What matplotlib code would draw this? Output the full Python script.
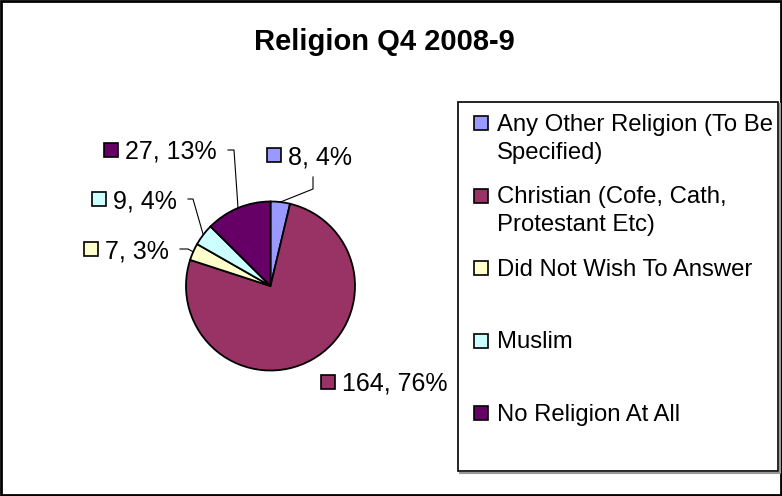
import textwrap

import numpy as np
import matplotlib
matplotlib.use("Agg")
import matplotlib.pyplot as plt
from matplotlib.patches import Rectangle

# data
categories = ["Any Other Religion (To Be Specified)",
              "Christian (Cofe, Cath, Protestant Etc)",
              "Did Not Wish To Answer",
              "Muslim",
              "No Religion At All"]
counts = [8, 164, 7, 9, 27]
colors = ["#9999FF", "#993366", "#FFFFCC", "#CCFFFF", "#660066"]
title = "Religion Q4 2008-9"

W, H = 782, 496
CX, CY, R = 270.5, 286.0, 84.5          # pie centre / radius in pixels

# data-label layout (pixels): marker left, centre y, elbow points of leader
label_pos = [(267, 155), (321, 382), (84, 249), (92, 199), (104, 150)]
leaders = [[(313, 177), (313, 189)], None, [(180, 249), (188, 249)],
           [(188, 199), (193, 199)], [(228, 150), (234, 150)]]

plt.rcParams["font.family"] = ["Liberation Sans", "DejaVu Sans"]
fig = plt.figure(figsize=(W / 100, H / 100), dpi=100)

# overlay in pixel coords
ov = fig.add_axes([0, 0, 1, 1])
ov.set_xlim(0, W); ov.set_ylim(H, 0); ov.axis("off")

# pie
ax = fig.add_axes([(CX - R) / W, 1 - (CY + R) / H, 2 * R / W, 2 * R / H])
ax.pie(counts, colors=colors, startangle=90, counterclock=False, radius=1,
       wedgeprops=dict(edgecolor="black", linewidth=1.3))
ax.set_xlim(-1.0, 1.0); ax.set_ylim(-1.0, 1.0); ax.set_aspect("auto")
ax.axis("off")

total = sum(counts)
ends = 90 - 360 * np.cumsum(counts) / total
starts = np.concatenate([[90], ends[:-1]])
mids = np.radians((starts + ends) / 2)

MS = 14
for i, v in enumerate(counts):
    mx, my = label_pos[i]
    ov.add_patch(Rectangle((mx, my - MS / 2), MS, MS, facecolor=colors[i],
                           edgecolor="black", lw=1.2))
    ov.text(mx + MS + 7, my + 9, f"{v}, {round(100 * v / total)}%",
            fontsize=18, va="baseline", ha="left")
    if leaders[i]:
        ex, ey = CX + R * np.cos(mids[i]), CY - R * np.sin(mids[i])
        pts = leaders[i] + [(ex, ey)]
        ov.plot([p[0] for p in pts], [p[1] for p in pts], color="black", lw=0.8)

# title
ov.text(384, 50, title, fontsize=21, fontweight="bold", ha="center", va="baseline")

# legend box
LX0, LY0, LX1, LY1 = 458, 102, 778, 471
ov.plot([LX0 + 2, LX1 + 2, LX1 + 2], [LY1 + 2, LY1 + 2, LY0 + 2], color="#999999", lw=1.5)
ov.add_patch(Rectangle((LX0, LY0), LX1 - LX0, LY1 - LY0, facecolor="white",
                       edgecolor="black", lw=1.2))
for i, name in enumerate(categories):
    y = 123 + i * 72.5
    ov.add_patch(Rectangle((474, y - 7), 14, 14, facecolor=colors[i],
                           edgecolor="black", lw=1.2))
    for j, line in enumerate(textwrap.wrap(name, 25)):
        ov.text(497, y + 8 + j * 28, line, fontsize=17.2, va="baseline", ha="left")

# chart border
ov.add_patch(Rectangle((1, 1), W - 2, H - 2, facecolor="none", edgecolor="black", lw=2))

fig.savefig("out.png", dpi=100)
